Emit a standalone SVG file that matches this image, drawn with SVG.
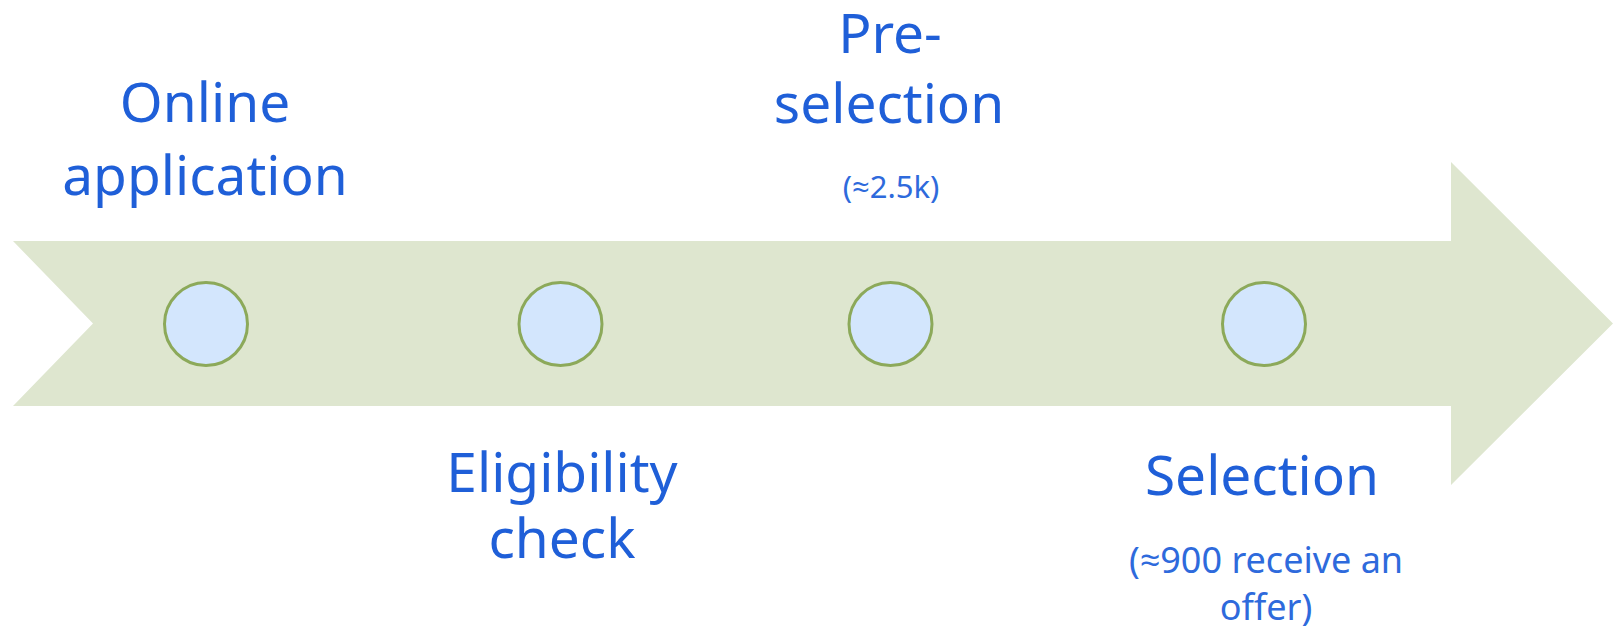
<svg xmlns="http://www.w3.org/2000/svg" width="1615" height="629" viewBox="0 0 1615 629">
<style>
.arrow{fill:#DEE6CF}
.dot{fill:#D3E6FD;stroke:#8CA95A;stroke-width:3}
.t{font-family:"Noto Sans","Open Sans","DejaVu Sans",sans-serif;fill:#1F5FD8;text-anchor:middle}
.big{font-size:55px}
.small{font-size:36px;fill:#2E6ADC}
</style>
<rect width="1615" height="629" fill="#FFFFFF"/>
<g id="connectors">
<polygon class="arrow" points="13,241 1451,241 1451,162 1613,323.5 1451,485 1451,406 13,406 93,323.5"/>
</g>
<g id="node-online">
<circle class="dot" cx="206" cy="324" r="41.5"/>
<text class="t big" x="205" y="122">Online</text>
<text class="t big" x="205" y="195">application</text>
</g>
<g id="node-eligibility">
<circle class="dot" cx="560.5" cy="324" r="41.5"/>
<text class="t big" x="562" y="492">Eligibility</text>
<text class="t big" x="562" y="558">check</text>
</g>
<g id="node-preselection">
<circle class="dot" cx="890.5" cy="324" r="41.5"/>
<text class="t big" x="890" y="53">Pre-</text>
<text class="t big" x="889" y="123">selection</text>
<text class="t small" x="891" y="198" style="font-size:31px">(≈2.5k)</text>
</g>
<g id="node-selection">
<circle class="dot" cx="1264" cy="324" r="41.5"/>
<text class="t big" x="1262" y="495">Selection</text>
<text class="t small" x="1266" y="573">(≈900 receive an</text>
<text class="t small" x="1266" y="620">offer)</text>
</g>
</svg>
